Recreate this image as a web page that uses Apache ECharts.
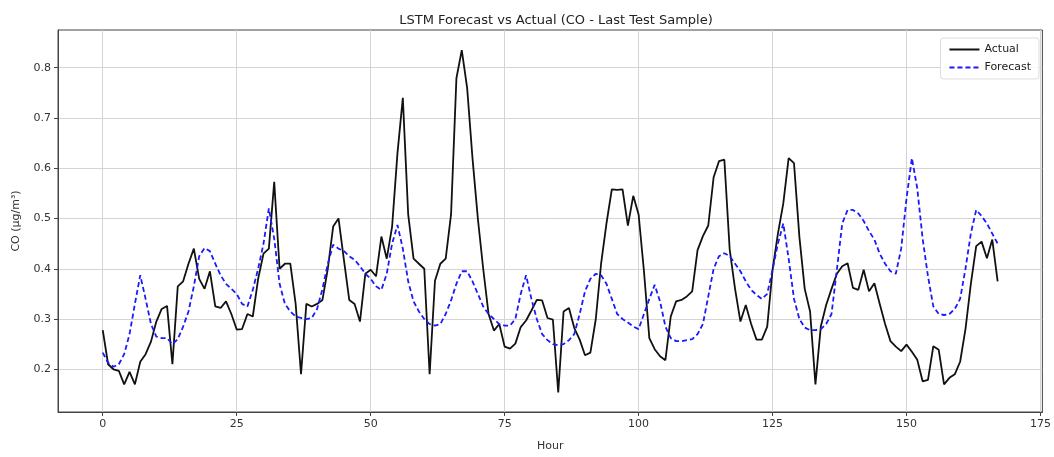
<!DOCTYPE html>
<html>
<head>
<meta charset="utf-8">
<script src="https://cdn.jsdelivr.net/npm/echarts@6/dist/echarts.min.js"></script>
<style>
html,body{margin:0;padding:0;background:#fff;}
#chart{width:1054px;height:457px;}
</style>
</head>
<body>
<div id="chart"></div>
<script>
const hours = Array.from({length:168}, (_, i) => i);
const actual = [
0.278,0.21,0.20,0.197,0.17,0.195,0.17,0.215,0.23,0.255,
0.295,0.32,0.326,0.21,0.365,0.375,0.41,0.44,0.38,0.36,
0.395,0.325,0.322,0.335,0.31,0.279,0.28,0.31,0.305,0.38,
0.43,0.44,0.573,0.40,0.41,0.41,0.33,0.19,0.33,0.325,
0.33,0.338,0.40,0.484,0.50,0.418,0.338,0.33,0.295,0.39,
0.398,0.385,0.464,0.42,0.484,0.63,0.74,0.508,0.42,0.41,
0.40,0.19,0.376,0.41,0.42,0.508,0.779,0.835,0.76,0.62,
0.50,0.40,0.31,0.277,0.29,0.245,0.241,0.251,0.284,0.297,
0.317,0.338,0.337,0.302,0.299,0.154,0.315,0.322,0.282,0.259,
0.228,0.233,0.299,0.41,0.49,0.558,0.557,0.558,0.486,0.545,
0.508,0.395,0.262,0.240,0.226,0.218,0.305,0.335,0.338,0.345,
0.355,0.437,0.465,0.486,0.582,0.614,0.617,0.438,0.36,0.295,
0.328,0.29,0.259,0.259,0.285,0.398,0.47,0.53,0.62,0.61,
0.464,0.36,0.315,0.17,0.285,0.328,0.36,0.39,0.405,0.411,
0.362,0.358,0.398,0.355,0.371,0.33,0.29,0.256,0.245,0.236,
0.249,0.235,0.219,0.176,0.179,0.246,0.239,0.17,0.183,0.19,
0.215,0.28,0.37,0.445,0.454,0.421,0.458,0.375
];
const forecast = [
0.233,0.213,0.205,0.21,0.23,0.27,0.33,0.387,0.34,0.29,
0.265,0.262,0.262,0.25,0.26,0.285,0.315,0.365,0.425,0.441,
0.435,0.41,0.387,0.37,0.36,0.35,0.33,0.325,0.358,0.40,
0.45,0.52,0.46,0.37,0.33,0.315,0.305,0.302,0.30,0.302,
0.32,0.36,0.41,0.448,0.44,0.435,0.425,0.418,0.405,0.39,
0.38,0.365,0.358,0.39,0.45,0.487,0.44,0.375,0.335,0.315,
0.30,0.29,0.287,0.29,0.31,0.337,0.37,0.395,0.395,0.375,
0.35,0.325,0.31,0.30,0.29,0.287,0.287,0.30,0.35,0.387,
0.34,0.30,0.27,0.258,0.25,0.248,0.25,0.258,0.27,0.31,
0.355,0.38,0.39,0.387,0.37,0.34,0.31,0.30,0.293,0.285,
0.28,0.31,0.34,0.368,0.335,0.285,0.262,0.256,0.256,0.258,
0.26,0.27,0.29,0.345,0.40,0.425,0.431,0.425,0.41,0.395,
0.375,0.358,0.348,0.34,0.35,0.398,0.45,0.49,0.42,0.34,
0.30,0.283,0.278,0.278,0.28,0.29,0.31,0.398,0.49,0.517,
0.517,0.51,0.495,0.475,0.458,0.43,0.41,0.395,0.39,0.44,
0.54,0.62,0.56,0.46,0.385,0.325,0.31,0.308,0.31,0.32,
0.34,0.40,0.47,0.517,0.505,0.49,0.47,0.45
];
const xTicks = [0,25,50,75,100,125,150,175];
const yTicks = [0.2,0.3,0.4,0.5,0.6,0.7,0.8];

const chart = echarts.init(document.getElementById('chart'), null, {renderer:'canvas'});
const font = 'DejaVu Sans';
chart.setOption({
  animation:false,
  backgroundColor:'#fff',
  title:{text:'LSTM Forecast vs Actual (CO - Last Test Sample)', left:551, top:9, textAlign:'center',
    textStyle:{fontFamily:font, fontSize:13, fontWeight:'normal', color:'#222'}},
  grid:{left:58, right:9, top:30, bottom:42, show:true, borderColor:'#444', borderWidth:1, backgroundColor:'transparent'},
  legend:{orient:'vertical', right:15, top:38, itemWidth:30, itemHeight:8, itemGap:7,
    backgroundColor:'rgba(255,255,255,0.85)', borderColor:'#ddd', borderWidth:1, borderRadius:3, padding:[6,8,6,8],
    itemStyle:{opacity:0},
    textStyle:{fontFamily:font, fontSize:11, color:'#222'},
    data:['Actual','Forecast']},
  xAxis:{type:'value', min:-8.35, max:175.35, name:'Hour', nameLocation:'middle', nameGap:29,
    nameTextStyle:{fontFamily:font, fontSize:11, color:'#333'},
    axisLine:{show:true, onZero:false, lineStyle:{color:'#444'}},
    axisTick:{show:true, length:4, customValues:xTicks, lineStyle:{color:'#444'}},
    axisLabel:{customValues:xTicks, fontFamily:font, fontSize:11, color:'#333', margin:7},
    splitLine:{show:true, lineStyle:{color:'#d4d4d4', width:1}}},
  yAxis:{type:'value', min:0.115, max:0.875, name:'CO (µg/m³)', nameLocation:'middle', nameGap:36,
    nameTextStyle:{fontFamily:font, fontSize:11, color:'#333'},
    axisLine:{show:true, onZero:false, lineStyle:{color:'#444'}},
    axisTick:{show:true, length:4, customValues:yTicks, lineStyle:{color:'#444'}},
    axisLabel:{customValues:yTicks, fontFamily:font, fontSize:11, color:'#333', margin:7,
      formatter:v=>v.toFixed(1)},
    splitLine:{show:true, lineStyle:{color:'#d4d4d4', width:1}}},
  series:[
    {name:'Actual', type:'line', showSymbol:false, symbol:'none',
     data:hours.map((h,i)=>[h, actual[i]]),
     lineStyle:{color:'#111', width:1.8}, itemStyle:{color:'#111'}, z:3},
    {name:'Forecast', type:'line', showSymbol:false, symbol:'none',
     data:hours.map((h,i)=>[h, forecast[i]]),
     lineStyle:{color:'#1a1aff', width:1.8, type:[5,3]}, itemStyle:{color:'#1a1aff'}, z:4}
  ]
});
</script>
</body>
</html>
